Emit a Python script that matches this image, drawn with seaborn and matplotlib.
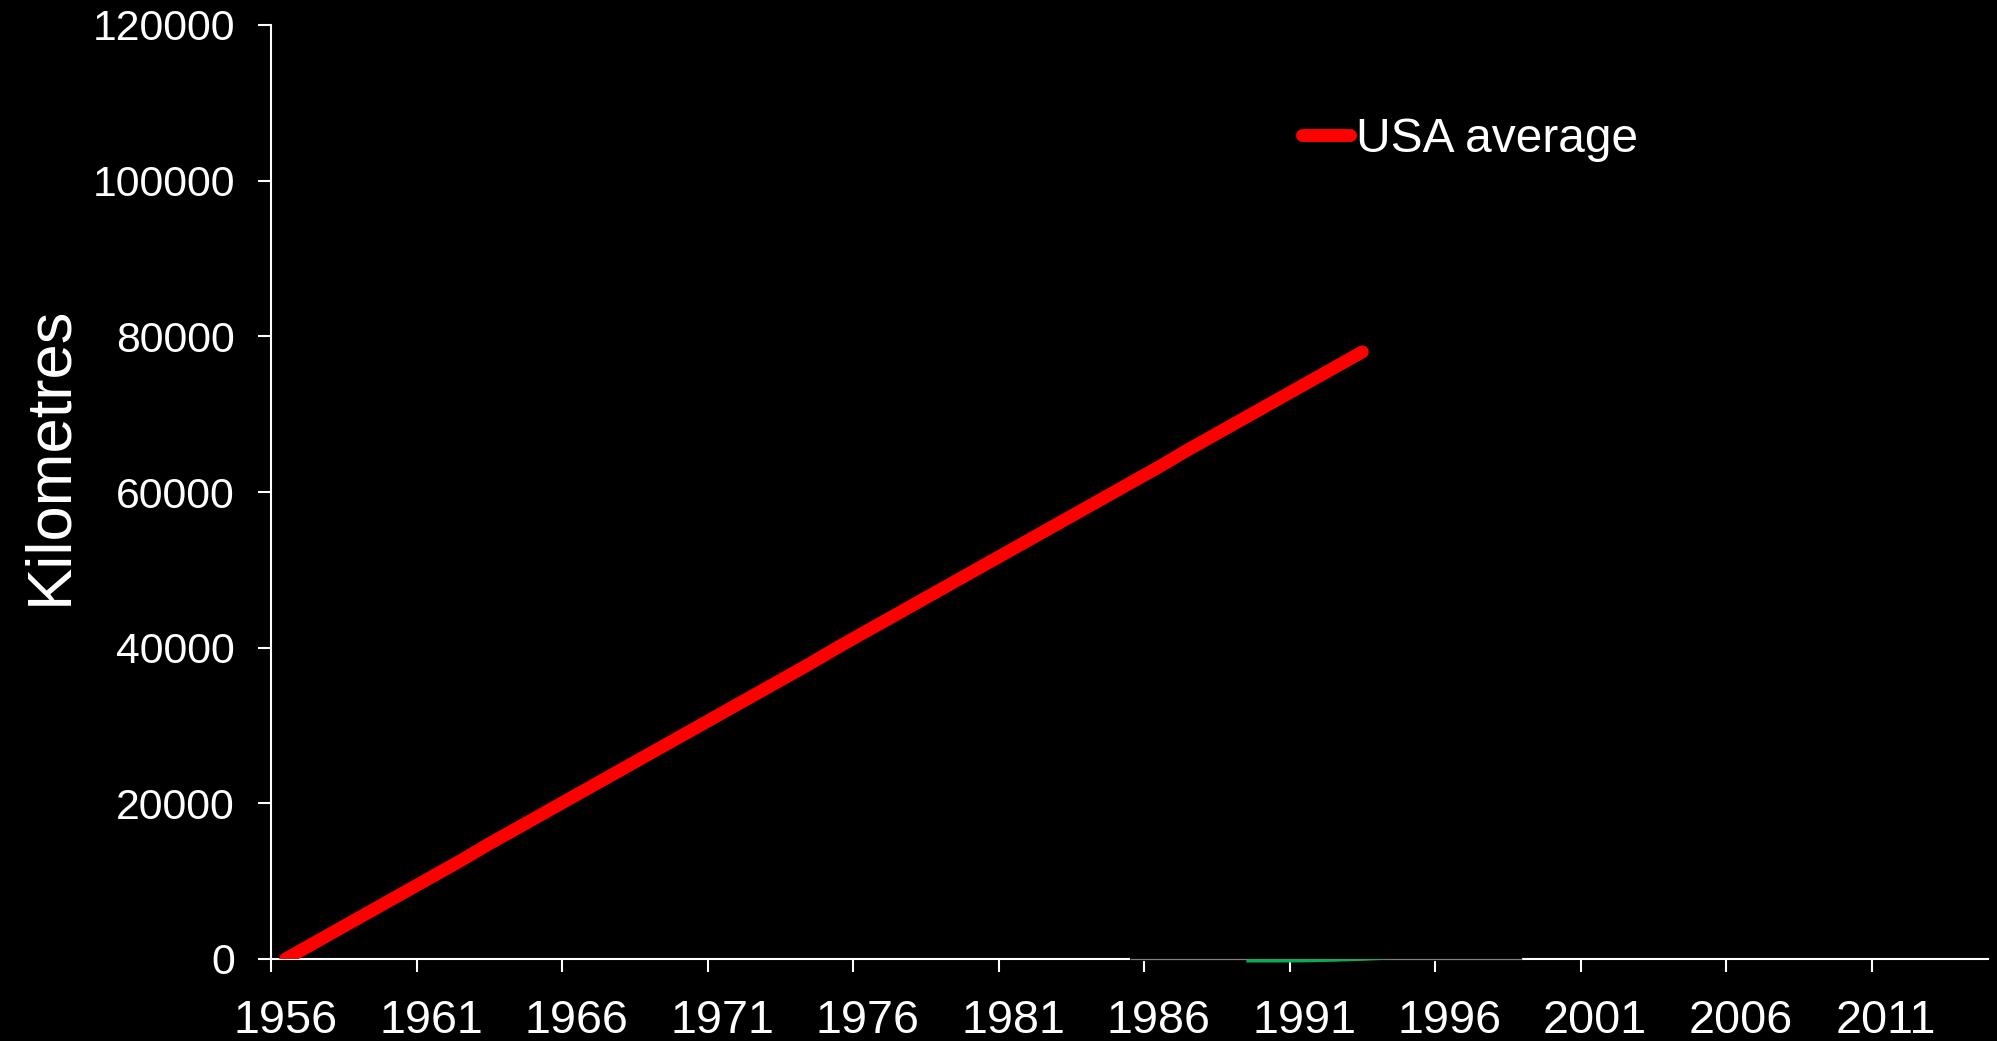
import matplotlib
matplotlib.use("Agg")
import matplotlib.pyplot as plt
import seaborn as sns
import pandas as pd

# Cumulative distance, USA average (km)
usa_years = list(range(1956, 1994))
usa_km = [0, 2100, 4200, 6300, 8400, 10500, 12600, 14800, 16900, 19000,
          21100, 23200, 25300, 27400, 29500, 31600, 33700, 35800, 37900, 40100,
          42200, 44300, 46400, 48500, 50600, 52700, 54800, 56900, 59000, 61100,
          63200, 65400, 67500, 69600, 71700, 73800, 75900, 78000]

# Second series, barely below zero
green_years = [1989, 1990, 1991, 1992, 1993, 1994]
green_km = [-390, -390, -370, -290, -170, 0]

# Axis ticks
year_labels = list(range(1956, 2012, 5))
y_ticks = [0, 20000, 40000, 60000, 80000, 100000, 120000]
x_limits = (1955.5, 2014.5)
second_axis_span = (1985.0, 1998.5)

sns.set_theme(style="dark")
plt.rcParams["font.family"] = ["Liberation Sans", "DejaVu Sans"]
plt.rcParams.update({
    "figure.facecolor": "black",
    "axes.facecolor": "black",
    "savefig.facecolor": "black",
    "text.color": "white",
    "axes.labelcolor": "white",
    "xtick.color": "white",
    "ytick.color": "white",
    "axes.edgecolor": "white",
})

fig = plt.figure(figsize=(19.97, 10.41), dpi=100)
ax = fig.add_axes([271 / 1997, 1 - 959 / 1041, (1988 - 271) / 1997, (959 - 25) / 1041])
ax.set_facecolor("black")

df = pd.DataFrame({"year": usa_years, "km": usa_km})
sns.lineplot(data=df, x="year", y="km", color="#ff0000", linewidth=9.3,
             solid_capstyle="round", label="USA average", ax=ax, zorder=4)

ax.set_xlim(*x_limits)
ax.set_ylim(0, 120000)

# Spines
for side in ["top", "right"]:
    ax.spines[side].set_visible(False)
for side in ["left", "bottom"]:
    ax.spines[side].set_color("white")
    ax.spines[side].set_linewidth(1.5)

# Part of the bottom axis belongs to the second chart: black cover with a thin grey rule
ax.hlines(0, *second_axis_span, colors="black", linewidth=3, zorder=3, clip_on=False)
ax.hlines(0, *second_axis_span, colors="#7f7f7f", linewidth=0.9, zorder=3.1, clip_on=False)
ax.fill_between(green_years, green_km, 0, color="#00b050", linewidth=0, zorder=3.2, clip_on=False)

# Y axis
ax.set_yticks(y_ticks)
ax.set_yticklabels([str(v) for v in y_ticks])
ax.tick_params(axis="y", which="major", length=9.4, width=1.5, direction="out",
               labelsize=30.8, pad=16.5, left=True)
ax.set_ylabel("")

# X axis: labels centred on categories, tick marks on category boundaries
ax.set_xticks(year_labels)
ax.set_xticklabels([str(y) for y in year_labels])
ax.set_xticks([y - 0.5 for y in year_labels], minor=True)
ax.tick_params(axis="x", which="major", length=0, labelsize=33.7, pad=28.5, bottom=True)
ax.tick_params(axis="x", which="minor", length=9.4, width=1.5, direction="out",
               color="white", bottom=True)
ax.set_xlabel("")
ax.grid(False)

fig.text(49.5 / 1997, 1 - 455 / 1041, "Kilometres", rotation=90, ha="center",
         va="center", fontsize=45.6, color="white")

leg = ax.legend(loc="center left", bbox_to_anchor=(1301.5 / 1997, 1 - 139 / 1041),
                bbox_transform=fig.transFigure, frameon=False, fontsize=34.5,
                handlelength=1.02, handletextpad=0.12, borderpad=0, borderaxespad=0)
for t in leg.get_texts():
    t.set_color("white")
for h in leg.get_lines():
    h.set_solid_capstyle("round")
    h.set_linewidth(9.3)

fig.savefig("out.png", dpi=100, facecolor="black")
